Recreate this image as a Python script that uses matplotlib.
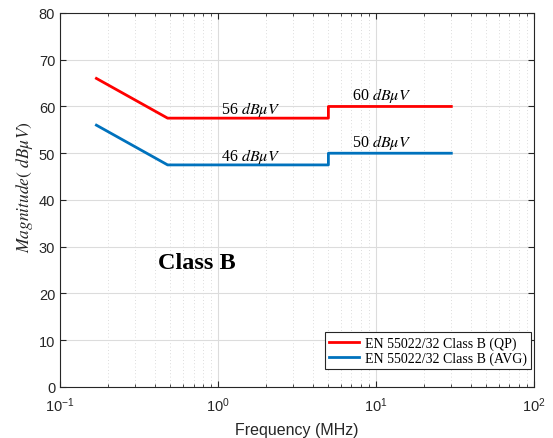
import numpy as np
import matplotlib
matplotlib.use('Agg')
import matplotlib.pyplot as plt
from matplotlib.ticker import LogLocator, NullFormatter, FuncFormatter

plt.rcParams['font.family'] = 'Liberation Sans'
plt.rcParams['mathtext.fontset'] = 'stix'

# limit lines, EN 55022/32 Class B
freq = [0.17, 0.48, 5.0, 5.0, 30.0]
qp_limit = [66.0, 57.5, 57.5, 60.0, 60.0]
avg_limit = [56.0, 47.5, 47.5, 50.0, 50.0]
series_names = ['EN 55022/32 Class B (QP)', 'EN 55022/32 Class B (AVG)']
level_labels = ['56', '60', '46', '50']
label_x = [1.6, 10.8, 1.6, 10.8]
label_y = [59.6, 62.6, 49.6, 52.6]

fig = plt.figure(figsize=(5.53, 4.39), dpi=100)
ax = fig.add_axes([0.1085, 0.1162, 0.857, 0.852])

ax.semilogx(freq, qp_limit, color='#ff0000', lw=2, label=series_names[0])
ax.semilogx(freq, avg_limit, color='#0072bd', lw=2, label=series_names[1])

for s, x, y in zip(level_labels, label_x, label_y):
    ax.text(x, y, s + r' $dB\mu V$', fontsize=11.5, family='Liberation Serif',
            ha='center', va='center')

ax.text(0.415, 26.6, 'Class B', fontsize=17.5, fontweight='bold',
        family='Liberation Serif', ha='left', va='center')

ax.set_xlim(0.1, 100)
ax.set_ylim(0, 80)
ax.set_yticks(np.arange(0, 81, 10))
ax.xaxis.set_major_locator(LogLocator(base=10, numticks=10))
ax.xaxis.set_major_formatter(FuncFormatter(
    lambda v, p: r'$\mathregular{10^{%d}}$' % int(round(np.log10(v)))))
ax.xaxis.set_minor_locator(LogLocator(base=10, subs=np.arange(2, 10), numticks=20))
ax.xaxis.set_minor_formatter(NullFormatter())

ax.grid(True, which='major', color='#dcdcdc', lw=0.8)
ax.grid(True, which='minor', axis='x', color='#d0d0d0', lw=0.6, ls=(0, (1, 3)))
ax.tick_params(which='both', direction='in', top=True, right=True,
               labelsize=10.5, colors='#262626', length=4)
ax.tick_params(which='minor', length=2.5)
ax.tick_params(axis='x', pad=6)
for sp in ax.spines.values():
    sp.set_color('#262626')
    sp.set_linewidth(0.8)

ax.set_xlabel('Frequency (MHz)', fontsize=11.5, color='#262626')
ax.xaxis.set_label_coords(0.5, -0.093)
ax.set_ylabel(r'$Magnitude(\ dB\mu V)$', fontsize=12.5, color='#262626')
ax.yaxis.set_label_coords(-0.052, 0.537)

leg = ax.legend(loc='lower right', bbox_to_anchor=(0.994, 0.048),
                prop={'family': 'Liberation Serif', 'size': 10},
                fancybox=False, framealpha=1, edgecolor='#262626',
                handlelength=2.2, handletextpad=0.4, borderpad=0.3,
                labelspacing=0.1, borderaxespad=0.0)
leg.get_frame().set_linewidth(0.8)

fig.savefig('out.png', dpi=100)
